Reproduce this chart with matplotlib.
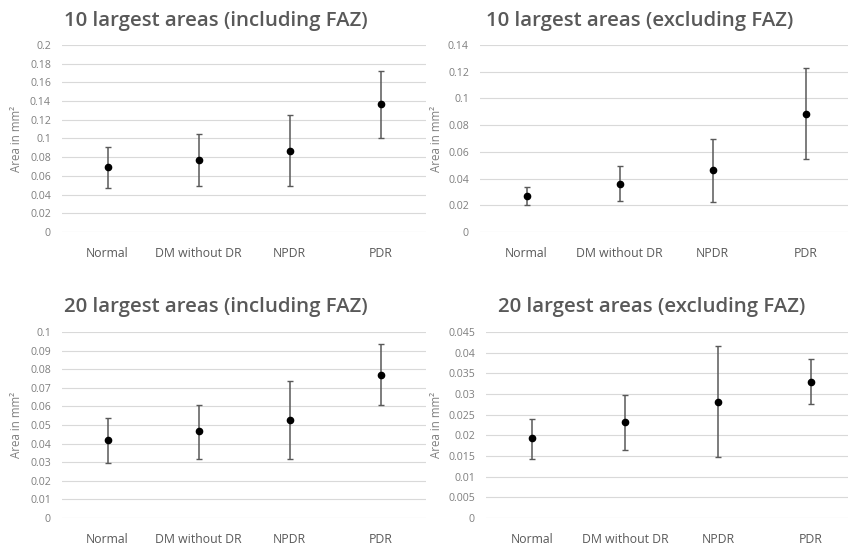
import matplotlib
matplotlib.use("Agg")
import matplotlib.pyplot as plt
from matplotlib.ticker import FuncFormatter

plt.rcParams['font.family'] = ['Open Sans', 'DejaVu Sans']

categories = ["Normal", "DM without DR", "NPDR", "PDR"]

titles = ["10 largest areas (including FAZ)", "10 largest areas (excluding FAZ)",
          "20 largest areas (including FAZ)", "20 largest areas (excluding FAZ)"]

mean_10_inc = [0.069, 0.077, 0.0865, 0.1367]
upper_10_inc = [0.091, 0.1043, 0.1246, 0.1726]
lower_10_inc = [0.0466, 0.0488, 0.0488, 0.100]

mean_10_exc = [0.0272, 0.0361, 0.0461, 0.0887]
upper_10_exc = [0.0336, 0.0491, 0.0698, 0.1228]
lower_10_exc = [0.0202, 0.0232, 0.0227, 0.0543]

mean_20_inc = [0.0418, 0.0466, 0.0525, 0.0771]
upper_20_inc = [0.0538, 0.0609, 0.0735, 0.0935]
lower_20_inc = [0.0296, 0.0315, 0.0315, 0.0606]

mean_20_exc = [0.0193, 0.0232, 0.0281, 0.0329]
upper_20_exc = [0.0240, 0.0298, 0.0415, 0.0384]
lower_20_exc = [0.0143, 0.0165, 0.0147, 0.0275]

yticks_10_inc = [0, 0.02, 0.04, 0.06, 0.08, 0.1, 0.12, 0.14, 0.16, 0.18, 0.2]
yticks_10_exc = [0, 0.02, 0.04, 0.06, 0.08, 0.1, 0.12, 0.14]
yticks_20_inc = [0, 0.01, 0.02, 0.03, 0.04, 0.05, 0.06, 0.07, 0.08, 0.09, 0.1]
yticks_20_exc = [0, 0.005, 0.01, 0.015, 0.02, 0.025, 0.03, 0.035, 0.04, 0.045]

panels = [
    (mean_10_inc, upper_10_inc, lower_10_inc, yticks_10_inc),
    (mean_10_exc, upper_10_exc, lower_10_exc, yticks_10_exc),
    (mean_20_inc, upper_20_inc, lower_20_inc, yticks_20_inc),
    (mean_20_exc, upper_20_exc, lower_20_exc, yticks_20_exc),
]

W, H = 848, 548
fig = plt.figure(figsize=(W / 100, H / 100), dpi=100)

# axes rectangles in pixels: left, top, right, bottom
rects = [(62, 45, 426, 232), (480, 45, 852, 232), (62, 332, 426, 518), (486, 332, 857, 518)]
title_pos = [(216, 21), (640, 21), (216, 307), (652, 307)]
ylabel_x = [17, 437, 17, 437]

grey_text = '#7f7f7f'
for i, ((m, up, lo, yt), (l, t, r, b)) in enumerate(zip(panels, rects)):
    ax = fig.add_axes([l / W, 1 - b / H, (r - l) / W, (b - t) / H])
    x = list(range(len(categories)))
    yerr = [[mi - li for mi, li in zip(m, lo)], [ui - mi for ui, mi in zip(up, m)]]
    ax.errorbar(x, m, yerr=yerr, fmt='o', color='black', markersize=4.5,
                ecolor='#595959', elinewidth=1.1, capsize=2, capthick=1.0, zorder=3)
    ax.set_xlim(-0.5, len(categories) - 0.5)
    ax.set_ylim(yt[0], yt[-1])
    ax.set_yticks(yt)
    ax.yaxis.set_major_formatter(FuncFormatter(lambda v, p: ('%g' % v)))
    ax.set_xticks(x)
    ax.set_xticklabels(categories)
    for s in ax.spines.values():
        s.set_visible(False)
    ax.grid(axis='y', color='#d9d9d9', linewidth=0.8)
    ax.set_axisbelow(True)
    ax.tick_params(axis='both', length=0, colors=grey_text, labelsize=7.6)
    ax.tick_params(axis='x', pad=11, labelsize=8.8, labelcolor='#595959')
    ax.tick_params(axis='y', pad=8)
    fig.text(ylabel_x[i] / W, 1 - ((t + b) / 2) / H, 'Area in mm²', rotation=90,
             ha='center', va='center', fontsize=8.3, color=grey_text)
    tx, ty = title_pos[i]
    fig.text(tx / W, 1 - ty / H, titles[i], ha='center', va='center', fontsize=14.7,
             fontweight='semibold', color='#595959')

fig.savefig('out.png', dpi=100)
